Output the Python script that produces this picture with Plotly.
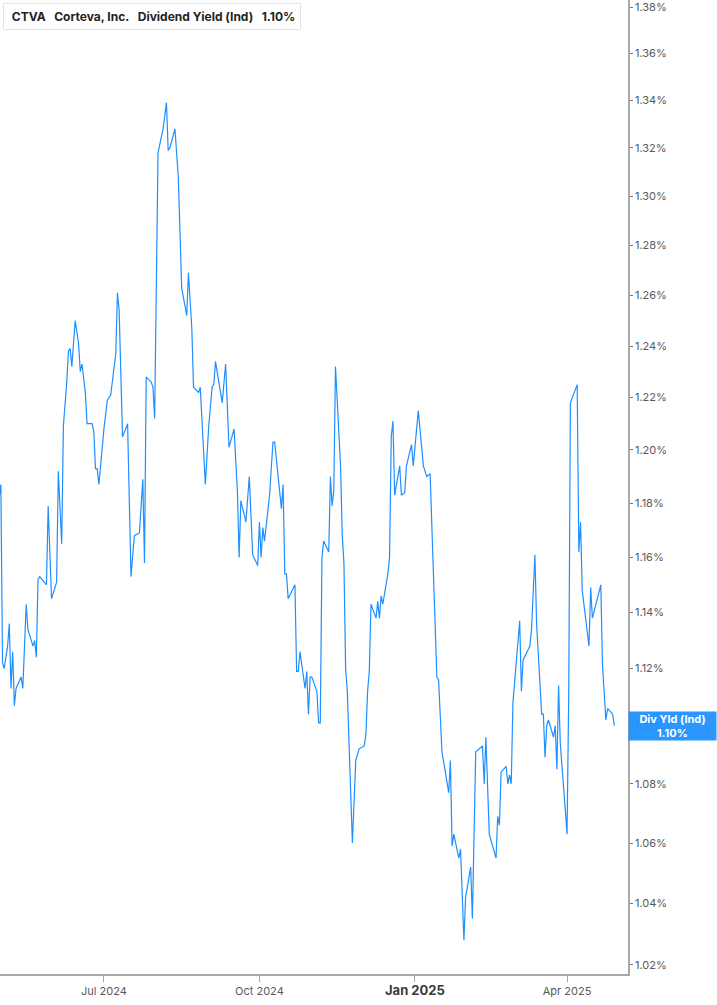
import math
import plotly.graph_objects as go

# CTVA indicated dividend yield (%)
dates = [
    "2024-04-30", "2024-05-01", "2024-05-02", "2024-05-03", "2024-05-05", "2024-05-06",
    "2024-05-07", "2024-05-08", "2024-05-09", "2024-05-10", "2024-05-13", "2024-05-14",
    "2024-05-16", "2024-05-17", "2024-05-20", "2024-05-21", "2024-05-22", "2024-05-23",
    "2024-05-24", "2024-05-28", "2024-05-29", "2024-05-31", "2024-06-03", "2024-06-04",
    "2024-06-06", "2024-06-07", "2024-06-09", "2024-06-10", "2024-06-11", "2024-06-12",
    "2024-06-14", "2024-06-16", "2024-06-17", "2024-06-18", "2024-06-20", "2024-06-21",
    "2024-06-24", "2024-06-25", "2024-06-26", "2024-06-27", "2024-06-28", "2024-07-01",
    "2024-07-03", "2024-07-05", "2024-07-08", "2024-07-09", "2024-07-10", "2024-07-12",
    "2024-07-15", "2024-07-17", "2024-07-19", "2024-07-22", "2024-07-24", "2024-07-25",
    "2024-07-26", "2024-07-29", "2024-07-30", "2024-07-31", "2024-08-02", "2024-08-05",
    "2024-08-07", "2024-08-08", "2024-08-09", "2024-08-12", "2024-08-14", "2024-08-16",
    "2024-08-19", "2024-08-20", "2024-08-22", "2024-08-23", "2024-08-26", "2024-08-27",
    "2024-08-30", "2024-09-01", "2024-09-03", "2024-09-04", "2024-09-05", "2024-09-09",
    "2024-09-11", "2024-09-13", "2024-09-16", "2024-09-18", "2024-09-19", "2024-09-20",
    "2024-09-23", "2024-09-25", "2024-09-27", "2024-09-30", "2024-10-01", "2024-10-02",
    "2024-10-03", "2024-10-04", "2024-10-07", "2024-10-09", "2024-10-10", "2024-10-14",
    "2024-10-15", "2024-10-16", "2024-10-17", "2024-10-18", "2024-10-22", "2024-10-23",
    "2024-10-24", "2024-10-25", "2024-10-28", "2024-10-29", "2024-10-30", "2024-10-31",
    "2024-11-01", "2024-11-04", "2024-11-05", "2024-11-06", "2024-11-07", "2024-11-08",
    "2024-11-11", "2024-11-12", "2024-11-13", "2024-11-14", "2024-11-15", "2024-11-18",
    "2024-11-19", "2024-11-20", "2024-11-21", "2024-11-22", "2024-11-25", "2024-11-27",
    "2024-11-29", "2024-12-02", "2024-12-03", "2024-12-04", "2024-12-05", "2024-12-06",
    "2024-12-09", "2024-12-10", "2024-12-11", "2024-12-12", "2024-12-13", "2024-12-16",
    "2024-12-17", "2024-12-18", "2024-12-19", "2024-12-20", "2024-12-23", "2024-12-24",
    "2024-12-26", "2024-12-27", "2024-12-30", "2024-12-31", "2025-01-03", "2025-01-06",
    "2025-01-08", "2025-01-10", "2025-01-14", "2025-01-15", "2025-01-17", "2025-01-21",
    "2025-01-22", "2025-01-23", "2025-01-24", "2025-01-27", "2025-01-28", "2025-01-30",
    "2025-01-31", "2025-02-03", "2025-02-04", "2025-02-06", "2025-02-10", "2025-02-11",
    "2025-02-12", "2025-02-14", "2025-02-18", "2025-02-19", "2025-02-20", "2025-02-21",
    "2025-02-24", "2025-02-25", "2025-02-26", "2025-02-27", "2025-02-28", "2025-03-04",
    "2025-03-05", "2025-03-06", "2025-03-10", "2025-03-11", "2025-03-13", "2025-03-14",
    "2025-03-17", "2025-03-18", "2025-03-19", "2025-03-20", "2025-03-21", "2025-03-24",
    "2025-03-25", "2025-03-26", "2025-03-27", "2025-03-28", "2025-03-31", "2025-04-01",
    "2025-04-02", "2025-04-03", "2025-04-07", "2025-04-08", "2025-04-09", "2025-04-10",
    "2025-04-14", "2025-04-15", "2025-04-16", "2025-04-21", "2025-04-22", "2025-04-24",
    "2025-04-25", "2025-04-28", "2025-04-29",
]
div_yield = [
    1.182, 1.187, 1.122, 1.120, 1.128, 1.136,
    1.113, 1.126, 1.107, 1.113, 1.117, 1.113,
    1.143, 1.134, 1.128, 1.130, 1.124, 1.152,
    1.153, 1.150, 1.179, 1.145, 1.151, 1.192,
    1.165, 1.209, 1.226, 1.238, 1.239, 1.232,
    1.250, 1.241, 1.230, 1.233, 1.222, 1.210,
    1.210, 1.207, 1.193, 1.193, 1.187, 1.208,
    1.219, 1.221, 1.237, 1.261, 1.254, 1.205,
    1.210, 1.153, 1.168, 1.169, 1.189, 1.158,
    1.228, 1.226, 1.224, 1.212, 1.318, 1.328,
    1.339, 1.319, 1.320, 1.328, 1.308, 1.263,
    1.252, 1.269, 1.247, 1.224, 1.222, 1.224,
    1.187, 1.209, 1.224, 1.225, 1.234, 1.218,
    1.233, 1.201, 1.208, 1.184, 1.160, 1.181,
    1.173, 1.190, 1.161, 1.157, 1.173, 1.160,
    1.171, 1.166, 1.183, 1.203, 1.203, 1.178,
    1.187, 1.154, 1.154, 1.145, 1.150, 1.119,
    1.119, 1.126, 1.113, 1.119, 1.104, 1.117,
    1.117, 1.112, 1.101, 1.101, 1.160, 1.166,
    1.162, 1.190, 1.179, 1.185, 1.232, 1.194,
    1.168, 1.158, 1.120, 1.112, 1.060, 1.088,
    1.092, 1.093, 1.097, 1.112, 1.119, 1.143,
    1.138, 1.144, 1.138, 1.146, 1.143, 1.154,
    1.160, 1.205, 1.211, 1.183, 1.194, 1.183,
    1.184, 1.194, 1.202, 1.194, 1.215, 1.194,
    1.190, 1.191, 1.117, 1.116, 1.091, 1.077,
    1.088, 1.059, 1.063, 1.055, 1.058, 1.028,
    1.042, 1.052, 1.035, 1.091, 1.093, 1.080,
    1.096, 1.063, 1.055, 1.069, 1.066, 1.084,
    1.086, 1.080, 1.083, 1.080, 1.108, 1.137,
    1.112, 1.123, 1.128, 1.134, 1.161, 1.136,
    1.104, 1.104, 1.089, 1.100, 1.102, 1.096,
    1.100, 1.085, 1.114, 1.094, 1.071, 1.063,
    1.110, 1.218, 1.225, 1.162, 1.173, 1.148,
    1.128, 1.149, 1.138, 1.150, 1.121, 1.102,
    1.106, 1.104, 1.100,
]

x_ticks = ["2024-07-01", "2024-10-01", "2025-01-01", "2025-04-01"]
x_labels = ["Jul 2024", "Oct 2024",
            "<span style='font-size:13px;color:#3a3a3a'><b>Jan 2025</b></span>",
            "Apr 2025"]
y_ticks = [1.02 + 0.02 * i for i in range(19)]
y_labels = ["%.2f%%" % v for v in y_ticks]

BLUE = "#1f8fff"
last = div_yield[-1]

fig = go.Figure()
fig.add_trace(go.Scatter(x=dates, y=div_yield, mode="lines",
                         line=dict(color=BLUE, width=1.2), showlegend=False))

fig.update_layout(
    width=717, height=1005,
    margin=dict(l=0, r=89, t=0, b=31),
    paper_bgcolor="white", plot_bgcolor="white",
    font=dict(family="Inter, Roboto, sans-serif", color="#5a5a5a", size=11),
    xaxis=dict(
        type="date",
        range=["2024-04-30 12:00", "2025-05-07 02:00"],
        tickvals=x_ticks, ticktext=x_labels,
        showgrid=False, zeroline=False,
        showline=True, linecolor="#a8a8a8", linewidth=1.5,
        ticks="outside", ticklen=6, tickcolor="#a8a8a8",
        tickfont=dict(size=11, color="#5a5a5a"),
        ticklabeloverflow="allow",
    ),
    yaxis=dict(
        type="log", side="right",
        range=[math.log10(1.0171), math.log10(1.3831)],
        tickvals=y_ticks, ticktext=y_labels,
        showgrid=False, zeroline=False,
        showline=True, linecolor="#a8a8a8", linewidth=1.5,
        ticks="outside", ticklen=3, tickcolor="#777777",
        tickfont=dict(size=11, color="#5a5a5a"),
        ticklabeloverflow="allow",
    ),
)

# last value tag on the right axis (sits over the 1.10% tick label, as in the original)
fig.add_annotation(
    xref="paper", x=1, xanchor="left",
    yref="y", y=math.log10(last), yanchor="middle",
    text="<b>Div Yld (Ind)<br>%.2f%%</b>" % last,
    showarrow=False, align="center",
    bgcolor="rgba(31,143,255,0.94)", width=85, height=26,
    font=dict(color="white", size=11),
)

# header box top left
sp = "&nbsp;&nbsp;&nbsp;"
fig.add_annotation(
    xref="paper", yref="paper", x=0, y=1, xanchor="left", yanchor="top",
    xshift=3, yshift=-3,
    text="<b>&nbsp;CTVA" + sp + "Corteva, Inc." + sp + "Dividend Yield (Ind)" + sp
         + "%.2f%%</b>" % last,
    showarrow=False, align="left",
    bgcolor="white", bordercolor="#e4e4e4", borderwidth=1, borderpad=5,
    font=dict(color="#222222", size=12),
)
fig.add_shape(type="rect", xref="paper", yref="paper",
              xsizemode="pixel", ysizemode="pixel", xanchor=0, yanchor=1,
              x0=3, x1=6, y0=-3, y1=-29,
              fillcolor=BLUE, line=dict(width=0))

# page has a default body margin, drop it so the figure sits at 0,0
fig.write_html("out.html", config={"displayModeBar": False},
               post_script="document.body.style.margin='0';")
